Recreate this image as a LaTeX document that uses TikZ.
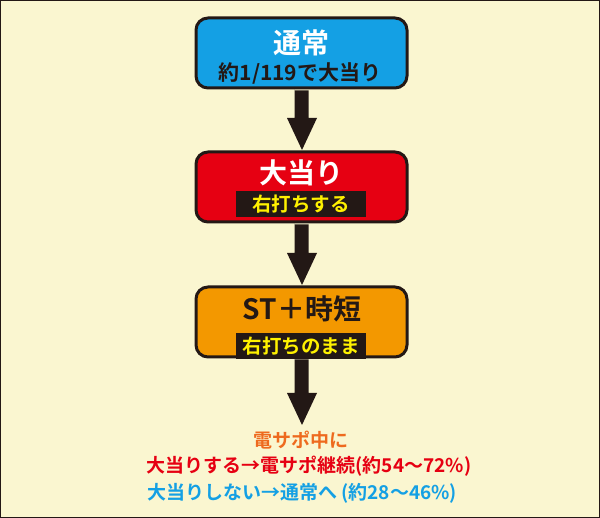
\documentclass[tikz,border=0pt]{standalone}
\usepackage{fontspec}
\newfontfamily\cjk{Noto Sans CJK JP}[BoldFont={* Bold}]
\definecolor{bg}{HTML}{FAF6D0}
\definecolor{cblue}{HTML}{14A0E4}
\definecolor{cred}{HTML}{E60012}
\definecolor{corange}{HTML}{F39800}
\definecolor{ctxtor}{HTML}{EE6A1E}
\definecolor{cyel}{HTML}{FFF100}
\definecolor{cdark}{HTML}{231815}
\begin{document}
\begin{tikzpicture}[x=1pt,y=-1pt,
  box/.style={draw=cdark,line width=3pt,rounded corners=12pt,minimum width=211pt,minimum height=70pt,inner sep=0pt},
  lab/.style={fill=cdark,text=cyel,font=\cjk\bfseries\fontsize{19.5}{19.5}\selectfont,minimum width=130pt,minimum height=26pt,inner sep=0pt},
  big/.style={font=\cjk\bfseries\fontsize{28}{28}\selectfont,text=white,inner sep=0pt},
  bot/.style={font=\cjk\bfseries\fontsize{19}{19}\selectfont,inner sep=0pt}]
\fill[bg,draw=cdark,line width=1pt] (0.5,0.5) rectangle (599.5,517.5);
\node[box,fill=cblue] (b1) at (301.5,53) {};
\node[box,fill=cred] (b2) at (301.5,187) {};
\node[box,fill=corange] (b3) at (301.5,322) {};
\node[big] (t1) at (301.5,43) {通常};
\node[font=\cjk\bfseries\fontsize{21}{21}\selectfont,text=cdark,inner sep=0pt] (s1) at (300,73) {約1/119で大当り};
\node[big] (t2) at (301.5,173) {大当り};
\node[lab] (l2) at (301,204) {右打ちする};
\node[big,text=cdark] (t3) at (302,309) {ST＋時短};
\node[lab] (l3) at (301,346) {右打ちのまま};
\coordinate (a1) at (b1.south); \coordinate (a2) at (b2.south); \coordinate (a3) at (b3.south);
\foreach \s/\e in {a1/150,a2/285,a3/425}{
  \fill[cdark] ([xshift=-7pt,yshift=-1pt]\s) -- ++(14,0) |- (317,\e-32) -- (302,\e) -- (287,\e-32) -| ([xshift=-7pt]\s) -- cycle;
}
\node[bot,text=ctxtor] (m1) at (301,440) {電サポ中に};
\node[bot,text=cred] (m2) at (309,466) {大当りする→電サポ継続(約54～72\%)};
\node[bot,text=cblue] (m3) at (302,493) {大当りしない→通常へ (約28～46\%)};
\end{tikzpicture}
\end{document}
